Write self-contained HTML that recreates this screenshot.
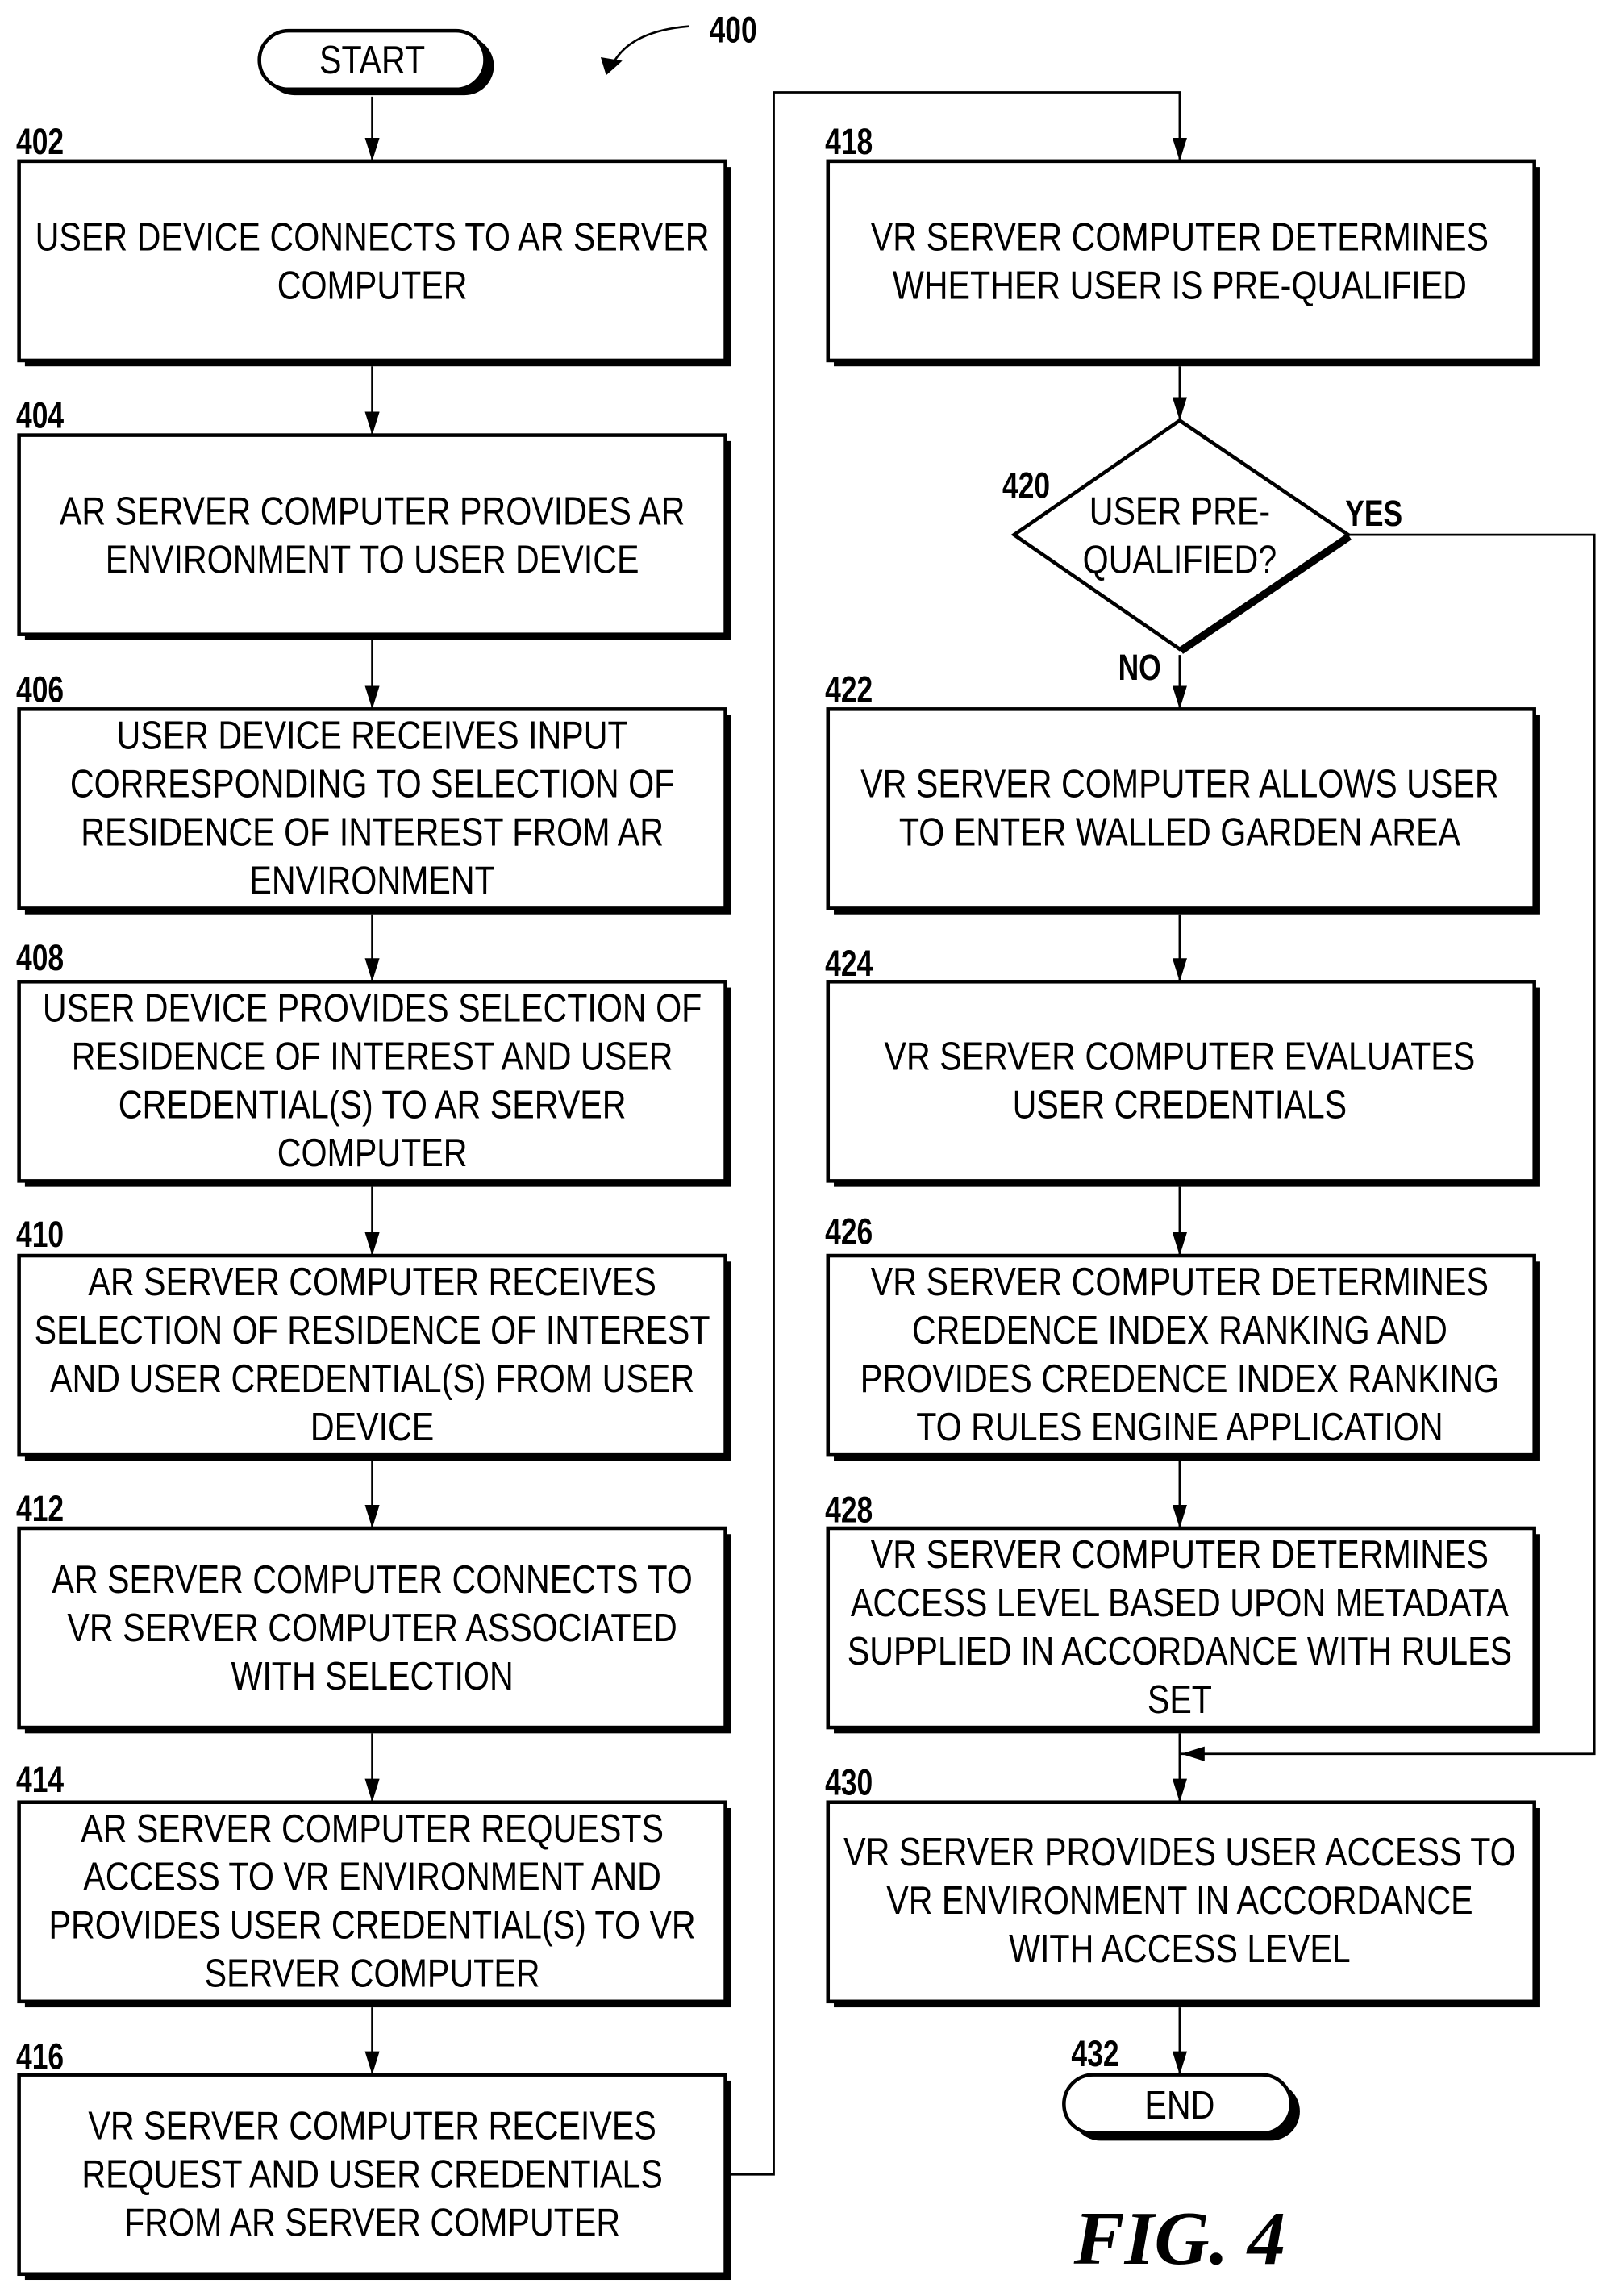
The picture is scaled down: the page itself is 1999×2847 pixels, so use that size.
<!DOCTYPE html>
<html><head><meta charset="utf-8"><style>
html,body{margin:0;padding:0;background:#fff}
svg{display:block}
.t{font-family:"Liberation Sans",sans-serif;font-size:27px;fill:#000}
.l{font-family:"Liberation Sans",sans-serif;font-size:25px;font-weight:bold;fill:#000}
</style></head><body>
<svg width="1999" height="2847" viewBox="0 0 1100 1567" preserveAspectRatio="none" xmlns="http://www.w3.org/2000/svg">
<defs>
<marker id="a" markerWidth="16" markerHeight="10" refX="16" refY="5" orient="auto" markerUnits="userSpaceOnUse" viewBox="0 0 16 10">
<path d="M0,0 L16,5 L0,10 Z" fill="#000"/></marker>
</defs>
<g stroke="#000" fill="none">
<rect x="181" y="25" width="156" height="40" rx="20" fill="#000" stroke="none"/>
<rect x="177" y="21" width="154" height="40" rx="20" fill="#fff" stroke-width="2.5"/>
<rect x="731" y="1421" width="156" height="40" rx="20" fill="#000" stroke="none"/>
<rect x="726" y="1416" width="155" height="40" rx="20" fill="#fff" stroke-width="2.5"/>
</g>
<g stroke="#000" stroke-width="2.5">
<g fill="#000" stroke="none">
<rect x="17" y="114" width="482" height="136"/><rect x="17" y="301" width="482" height="136"/>
<rect x="17" y="488" width="482" height="136"/><rect x="17" y="674" width="482" height="136"/>
<rect x="17" y="861" width="482" height="136"/><rect x="17" y="1047" width="482" height="136"/>
<rect x="17" y="1234" width="482" height="136"/><rect x="17" y="1420" width="482" height="136"/>
<rect x="569" y="114" width="482" height="136"/><rect x="569" y="488" width="482" height="136"/>
<rect x="569" y="674" width="482" height="136"/><rect x="569" y="861" width="482" height="136"/>
<rect x="569" y="1047" width="482" height="136"/><rect x="569" y="1234" width="482" height="136"/>
</g>
<g fill="#fff">
<rect x="13" y="110" width="482" height="136"/><rect x="13" y="297" width="482" height="136"/>
<rect x="13" y="484" width="482" height="136"/><rect x="13" y="670" width="482" height="136"/>
<rect x="13" y="857" width="482" height="136"/><rect x="13" y="1043" width="482" height="136"/>
<rect x="13" y="1230" width="482" height="136"/><rect x="13" y="1416" width="482" height="136"/>
<rect x="565" y="110" width="482" height="136"/><rect x="565" y="484" width="482" height="136"/>
<rect x="565" y="670" width="482" height="136"/><rect x="565" y="857" width="482" height="136"/>
<rect x="565" y="1043" width="482" height="136"/><rect x="565" y="1230" width="482" height="136"/>
</g>
<path d="M920,365 L805,443" stroke-width="8"/>
<polygon points="805,287 920,365 805,443 692,365" fill="#fff"/>
</g>
<g stroke="#000" stroke-width="1.5" fill="none">
<line x1="254" y1="66" x2="254" y2="110" marker-end="url(#a)"/>
<line x1="254" y1="250" x2="254" y2="297" marker-end="url(#a)"/>
<line x1="254" y1="437" x2="254" y2="484" marker-end="url(#a)"/>
<line x1="254" y1="624" x2="254" y2="670" marker-end="url(#a)"/>
<line x1="254" y1="810" x2="254" y2="857" marker-end="url(#a)"/>
<line x1="254" y1="997" x2="254" y2="1043" marker-end="url(#a)"/>
<line x1="254" y1="1183" x2="254" y2="1230" marker-end="url(#a)"/>
<line x1="254" y1="1370" x2="254" y2="1416" marker-end="url(#a)"/>
<polyline points="499,1484 528,1484 528,63 805,63 805,110" marker-end="url(#a)"/>
<line x1="805" y1="250" x2="805" y2="287" marker-end="url(#a)"/>
<line x1="805" y1="447" x2="805" y2="484" marker-end="url(#a)"/>
<line x1="805" y1="624" x2="805" y2="670" marker-end="url(#a)"/>
<line x1="805" y1="810" x2="805" y2="857" marker-end="url(#a)"/>
<line x1="805" y1="997" x2="805" y2="1043" marker-end="url(#a)"/>
<line x1="805" y1="1183" x2="805" y2="1230" marker-end="url(#a)"/>
<line x1="805" y1="1370" x2="805" y2="1416" marker-end="url(#a)"/>
<polyline points="920,365 1088,365 1088,1197 806,1197" marker-end="url(#a)"/>
<path d="M470,18 C445,20 425,28 417,46" />
<polygon points="411,40 423,42 414,50" fill="#000"/>
</g>
<g class="t" text-anchor="middle">
<text transform="translate(254,50) scale(0.84,1)">START</text>
<text transform="translate(805,1446) scale(0.84,1)">END</text>
<text transform="translate(254,171) scale(0.84,1)">USER DEVICE CONNECTS TO AR SERVER</text>
<text transform="translate(254,204) scale(0.84,1)">COMPUTER</text>
<text transform="translate(254,358) scale(0.84,1)">AR SERVER COMPUTER PROVIDES AR</text>
<text transform="translate(254,391) scale(0.84,1)">ENVIRONMENT TO USER DEVICE</text>
<text transform="translate(254,511) scale(0.84,1)">USER DEVICE RECEIVES INPUT</text>
<text transform="translate(254,544) scale(0.84,1)">CORRESPONDING TO SELECTION OF</text>
<text transform="translate(254,577) scale(0.84,1)">RESIDENCE OF INTEREST FROM AR</text>
<text transform="translate(254,610) scale(0.84,1)">ENVIRONMENT</text>
<text transform="translate(254,697) scale(0.84,1)">USER DEVICE PROVIDES SELECTION OF</text>
<text transform="translate(254,730) scale(0.84,1)">RESIDENCE OF INTEREST AND USER</text>
<text transform="translate(254,763) scale(0.84,1)">CREDENTIAL(S) TO AR SERVER</text>
<text transform="translate(254,796) scale(0.84,1)">COMPUTER</text>
<text transform="translate(254,884) scale(0.84,1)">AR SERVER COMPUTER RECEIVES</text>
<text transform="translate(254,917) scale(0.84,1)">SELECTION OF RESIDENCE OF INTEREST</text>
<text transform="translate(254,950) scale(0.84,1)">AND USER CREDENTIAL(S) FROM USER</text>
<text transform="translate(254,983) scale(0.84,1)">DEVICE</text>
<text transform="translate(254,1087) scale(0.84,1)">AR SERVER COMPUTER CONNECTS TO</text>
<text transform="translate(254,1120) scale(0.84,1)">VR SERVER COMPUTER ASSOCIATED</text>
<text transform="translate(254,1153) scale(0.84,1)">WITH SELECTION</text>
<text transform="translate(254,1257) scale(0.84,1)">AR SERVER COMPUTER REQUESTS</text>
<text transform="translate(254,1290) scale(0.84,1)">ACCESS TO VR ENVIRONMENT AND</text>
<text transform="translate(254,1323) scale(0.84,1)">PROVIDES USER CREDENTIAL(S) TO VR</text>
<text transform="translate(254,1356) scale(0.84,1)">SERVER COMPUTER</text>
<text transform="translate(254,1460) scale(0.84,1)">VR SERVER COMPUTER RECEIVES</text>
<text transform="translate(254,1493) scale(0.84,1)">REQUEST AND USER CREDENTIALS</text>
<text transform="translate(254,1526) scale(0.84,1)">FROM AR SERVER COMPUTER</text>
<text transform="translate(805,171) scale(0.84,1)">VR SERVER COMPUTER DETERMINES</text>
<text transform="translate(805,204) scale(0.84,1)">WHETHER USER IS PRE-QUALIFIED</text>
<text transform="translate(805,358) scale(0.84,1)">USER PRE-</text>
<text transform="translate(805,391) scale(0.84,1)">QUALIFIED?</text>
<text transform="translate(805,544) scale(0.84,1)">VR SERVER COMPUTER ALLOWS USER</text>
<text transform="translate(805,577) scale(0.84,1)">TO ENTER  WALLED GARDEN AREA</text>
<text transform="translate(805,730) scale(0.84,1)">VR SERVER COMPUTER EVALUATES</text>
<text transform="translate(805,763) scale(0.84,1)">USER CREDENTIALS</text>
<text transform="translate(805,884) scale(0.84,1)">VR SERVER COMPUTER DETERMINES</text>
<text transform="translate(805,917) scale(0.84,1)">CREDENCE INDEX RANKING AND</text>
<text transform="translate(805,950) scale(0.84,1)">PROVIDES CREDENCE INDEX RANKING</text>
<text transform="translate(805,983) scale(0.84,1)">TO RULES ENGINE APPLICATION</text>
<text transform="translate(805,1070) scale(0.84,1)">VR SERVER COMPUTER  DETERMINES</text>
<text transform="translate(805,1103) scale(0.84,1)">ACCESS LEVEL BASED UPON METADATA</text>
<text transform="translate(805,1136) scale(0.84,1)">SUPPLIED IN ACCORDANCE WITH RULES</text>
<text transform="translate(805,1169) scale(0.84,1)">SET</text>
<text transform="translate(805,1273) scale(0.84,1)">VR SERVER PROVIDES USER ACCESS TO</text>
<text transform="translate(805,1306) scale(0.84,1)">VR ENVIRONMENT IN ACCORDANCE</text>
<text transform="translate(805,1339) scale(0.84,1)">WITH ACCESS LEVEL</text>
</g>
<g class="l">
<text transform="translate(484,29) scale(0.78,1)">400</text>
<text transform="translate(11,105) scale(0.78,1)">402</text>
<text transform="translate(11,292) scale(0.78,1)">404</text>
<text transform="translate(11,479) scale(0.78,1)">406</text>
<text transform="translate(11,662) scale(0.78,1)">408</text>
<text transform="translate(11,851) scale(0.78,1)">410</text>
<text transform="translate(11,1038) scale(0.78,1)">412</text>
<text transform="translate(11,1223) scale(0.78,1)">414</text>
<text transform="translate(11,1412) scale(0.78,1)">416</text>
<text transform="translate(563,105) scale(0.78,1)">418</text>
<text transform="translate(684,340) scale(0.78,1)">420</text>
<text transform="translate(918,359) scale(0.78,1)">YES</text>
<text transform="translate(763,464) scale(0.78,1)">NO</text>
<text transform="translate(563,479) scale(0.78,1)">422</text>
<text transform="translate(563,666) scale(0.78,1)">424</text>
<text transform="translate(563,849) scale(0.78,1)">426</text>
<text transform="translate(563,1039) scale(0.78,1)">428</text>
<text transform="translate(563,1225) scale(0.78,1)">430</text>
<text transform="translate(731,1410) scale(0.78,1)">432</text>
</g>
<text x="805" y="1545" text-anchor="middle" style="font-family:'Liberation Serif',serif;font-size:52px;font-style:italic;font-weight:bold">FIG. 4</text>
</svg>
</body></html>
